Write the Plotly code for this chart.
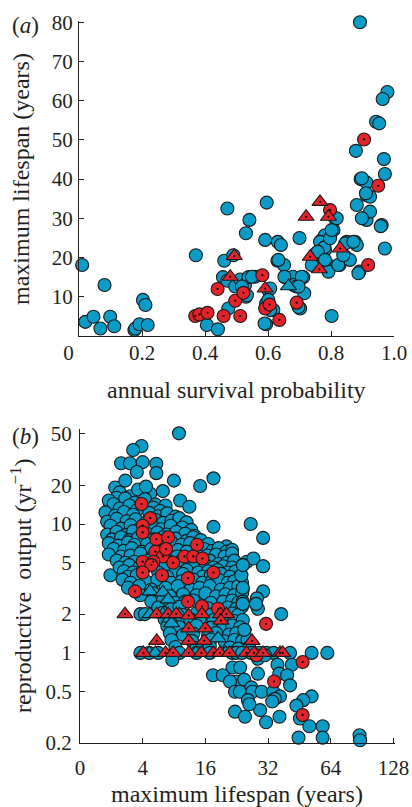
import plotly.graph_objects as go

# ---------------- Panel (a): annual survival probability vs maximum lifespan ----------------
a_blue_x = [0.01, 0.02, 0.046, 0.068, 0.081, 0.099, 0.112, 0.176, 0.179, 0.192, 0.203, 0.211, 0.218,
            0.371, 0.406, 0.441, 0.471, 0.461, 0.457, 0.471, 0.474, 0.49, 0.496, 0.512, 0.527, 0.53, 0.53,
            0.541, 0.538, 0.559, 0.591, 0.596, 0.594, 0.594, 0.601, 0.617, 0.631, 0.641, 0.63, 0.651,
            0.654, 0.679, 0.681, 0.7, 0.712, 0.715, 0.702, 0.69, 0.744, 0.753, 0.771, 0.781, 0.781,
            0.792, 0.792, 0.802, 0.808, 0.813, 0.827, 0.845, 0.85, 0.86, 0.876, 0.882, 0.89, 0.882,
            0.903, 0.913, 0.924, 0.913, 0.924, 0.961, 0.971,
            0.892, 0.979, 0.964, 0.943, 0.953, 0.879, 0.968, 0.971, 0.894, 0.913, 0.911,
            0.765, 0.779, 0.758, 0.739, 0.781, 0.823, 0.845, 0.871, 0.839, 0.887, 0.958, 0.898,
            0.898, 0.818, 0.633, 0.652, 0.707, 0.697, 0.697, 0.549, 0.517, 0.533, 0.607, 0.601,
            0.607, 0.589, 0.797, 0.802]
a_blue_y = [18.1, 3.6, 4.9, 1.9, 13.0, 4.9, 2.5, 1.5, 1.9, 3.0, 9.2, 7.9, 2.8,
            20.6, 2.8, 1.7, 32.5, 19.2, 15.0, 14.1, 7.0, 20.6, 12.6, 14.4, 13.0, 10.0, 26.2,
            29.6, 15.0, 15.1, 24.5, 34.0, 3.0, 8.3, 11.7, 6.6, 24.0, 23.2, 19.2, 18.1,
            15.0, 15.1, 13.0, 25.0, 15.0, 10.9, 7.0, 12.6, 18.1, 21.1, 24.5, 25.7, 21.9,
            18.1, 16.4, 5.1, 27.0, 30.0, 18.1, 20.2, 24.0, 19.4, 24.0, 23.2, 16.4, 33.4,
            30.0, 29.6, 31.7, 35.9, 35.5, 28.3, 22.3,
            80.0, 62.2, 60.4, 54.6, 54.2, 47.2, 45.1, 41.3, 40.0, 39.1, 36.4,
            24.0, 22.6, 21.5, 18.1, 19.4, 18.1, 23.6, 24.0, 20.6, 16.0, 28.0, 30.0,
            40.2, 30.0, 19.4, 15.1, 15.1, 12.6, 7.4, 15.1, 12.6, 10.4, 12.1, 9.2,
            6.6, 3.2, 24.9, 27.0]

a_blue_tri_x = [0.665]
a_blue_tri_y = [12.7]

a_red_x = [0.369, 0.382, 0.408, 0.44, 0.459, 0.496, 0.512, 0.522, 0.582, 0.591, 0.605, 0.636,
           0.691, 0.797, 0.918, 0.905, 0.95]
a_red_y = [5.1, 5.5, 5.9, 12.0, 5.1, 9.0, 5.1, 11.0, 15.5, 7.0, 8.0, 4.1,
           8.5, 32.1, 18.1, 50.1, 38.3]

a_red_tri_x = [0.48, 0.493, 0.591, 0.721, 0.734, 0.763, 0.765, 0.792, 0.829]
a_red_tri_y = [15.1, 20.4, 12.1, 30.4, 20.2, 17.0, 34.2, 30.4, 22.3]

a_xticks = [0, 0.2, 0.4, 0.6, 0.8, 1.0]
a_xticktext = ["0\u00a0\u00a0\u00a0\u00a0", "0.2", "0.4", "0.6", "0.8", "1.0"]
a_yticks = [10, 20, 30, 40, 50, 60, 70, 80]

# ---------------- Panel (b): maximum lifespan vs reproductive output ----------------
b_blue_L = [
    11.95, 7.9, 7.2, 6.3, 6.95, 8.0, 9.3, 9.3, 7.5, 11.3, 15.1, 17.5, 5.9, 6.6, 8.7, 10.0, 12.1, 13.4,
    5.6, 6.5, 17.5, 26.4, 30.3, 20.2, 25.3, 30.3, 27.2, 21.0, 23.4, 30.3, 28.3, 5.6, 5.8,
    6.2, 7.0, 7.6, 6.0, 8.3,
    5.5, 5.8, 6.6, 7.3, 8.2, 9.2, 10.3,
    6.2, 6.9, 7.5, 9.0, 9.7,
    5.3, 5.9, 6.5, 7.2, 8.6, 9.5, 10.5, 11.5,
    5.4, 6.0, 6.7, 7.4, 8.3, 9.2, 10.0, 11.0, 12.0, 13.0,
    5.6, 6.3, 7.0, 7.8, 8.9, 9.8, 10.9, 12.4, 13.7,
    5.4, 6.0, 6.6, 7.2, 8.4, 9.4, 10.4, 11.6, 12.8, 14.2,
    5.7, 6.3, 6.9, 7.6, 9.0, 10.0, 11.5, 13.0, 14.0, 15.2,
    5.5, 6.1, 6.8, 7.3, 8.4, 9.6, 11.0, 12.3, 13.5, 14.8, 16.5,
    5.8, 6.5, 7.1, 7.9, 8.8, 10.0, 11.8, 13.0, 15.8, 17.3, 18.5, 20.2, 21.5,
    5.5, 6.3, 7.0, 7.8, 9.0, 10.5, 11.7, 14.5, 16.4, 18.0, 19.8, 21.5,
    6.0, 6.6, 7.3, 8.5, 9.5, 10.8, 12.3, 13.5, 15.0, 16.8, 18.5, 20.3, 22.0,
    6.2, 6.9, 7.7, 9.1, 10.3, 12.0, 14.2, 16.0, 17.5, 19.5, 21.5, 24.2,
    6.5, 7.2, 8.0, 9.5, 11.5, 13.0, 14.8, 16.5, 18.3, 20.5, 22.3,
    6.8, 7.5, 10.5, 12.5, 15.5, 17.0, 19.0, 21.0, 23.8,
    6.4, 7.0, 8.3, 9.4, 11.0, 12.3, 14.0, 15.5, 17.2, 18.5, 20.5, 22.0, 24.0,
    6.8, 7.7, 8.8, 10.3, 11.8, 13.6, 15.0, 16.8, 19.0, 21.0, 23.0, 24.2,
    7.8, 9.0, 10.8, 12.5, 14.5, 16.0, 18.0, 20.0, 22.0, 24.0,
    8.8, 10.0, 11.5, 12.8, 14.0, 17.0, 19.5, 21.5, 23.0, 24.2, 28.0,
    9.5, 11.0, 12.0, 16.5, 20.5, 22.5, 24.0, 28.6,
    7.8, 8.2, 10.0, 12.5, 14.5, 17.0, 21.5, 23.0, 37.0,
    10.2, 11.8, 13.5, 15.0, 17.5, 20.0, 22.0, 24.2,
    10.5, 12.0, 14.5, 17.0, 19.5, 21.5, 23.5, 24.7,
    10.8, 12.5, 14.0, 16.5, 18.0, 20.8, 22.5, 24.5,
    11.0, 13.8, 17.0, 19.8, 22.0, 24.0, 25.5,
    11.5, 14.5, 16.8, 21.0, 23.0, 26.0,
    7.8, 8.6, 9.5, 12.0, 14.5, 16.8, 21.5, 22.5, 24.0, 26.5, 29.0, 31.5, 34.0, 40.8, 51.8, 61.6,
    11.1, 28.6, 30.9, 35.5, 41.6, 21.6, 17.4, 19.4, 23.5, 28.6, 36.2, 39.5, 22.6, 24.6, 21.0,
    26.6, 40.8, 22.2, 23.4, 26.9, 29.8, 33.9, 36.5, 51.8, 47.2, 34.5, 25.6, 43.8, 22.2, 24.8,
    29.3, 36.3, 45.5, 31.3, 33.5, 26.0, 50.5, 58.5, 44.8, 58.5, 88.0, 88.5,
    24.6, 28.0, 24.2, 24.2, 23.8, 24.2, 30.3]
b_blue_R = [
    50.5, 40.3, 37.5, 29.6, 29.6, 30.2, 29.3, 24.8, 25.3, 21.7, 19.7, 22.6, 19.2, 21.7, 17.2, 18.0, 15.2, 13.6,
    14.1, 13.6, 9.5, 10.0, 7.8, 6.7, 5.1, 4.7, 5.4, 5.3, 4.0, 3.0, 2.65, 4.0, 5.7,
    17.6, 16.4, 18.5, 16.0, 19.5,
    15.2, 14.3, 15.8, 14.6, 15.6, 14.2, 13.9,
    13.2, 13.9, 12.8, 13.4, 12.6,
    12.3, 11.6, 12.4, 11.8, 12.2, 11.5, 12.1, 11.4,
    10.4, 11.0, 10.5, 10.9, 10.3, 10.8, 10.2, 10.6, 11.1, 10.3,
    9.7, 9.2, 9.8, 9.3, 9.6, 9.1, 9.7, 9.4, 9.0,
    8.3, 8.7, 8.2, 8.8, 8.4, 8.6, 8.3, 8.7, 8.4, 8.1,
    7.6, 7.9, 7.5, 7.8, 7.6, 7.9, 7.7, 7.4, 7.9, 7.5,
    7.1, 6.8, 7.2, 6.9, 7.0, 6.8, 7.2, 6.9, 7.1, 6.8, 7.0,
    6.4, 6.2, 6.5, 6.1, 6.4, 6.2, 6.3, 6.1, 6.4, 6.2, 6.5, 6.1, 6.3,
    5.8, 5.6, 5.7, 5.9, 5.6, 5.8, 5.6, 5.9, 5.7, 5.8, 5.6, 5.9,
    5.2, 5.0, 5.1, 5.2, 4.9, 5.1, 5.2, 5.0, 5.1, 5.2, 4.9, 5.0, 5.2,
    4.6, 4.8, 4.6, 4.7, 4.8, 4.6, 4.7, 4.8, 4.6, 4.7, 4.6, 4.8,
    4.3, 4.2, 4.4, 4.2, 4.3, 4.4, 4.2, 4.3, 4.4, 4.2, 4.3,
    3.9, 4.0, 3.9, 4.1, 3.9, 4.0, 4.1, 3.9, 4.0,
    3.7, 3.5, 3.6, 3.7, 3.5, 3.6, 3.7, 3.5, 3.6, 3.7, 3.5, 3.6, 3.5,
    3.2, 3.3, 3.1, 3.2, 3.3, 3.1, 3.2, 3.3, 3.1, 3.2, 3.3, 3.1,
    2.8, 2.9, 2.75, 2.85, 2.8, 2.9, 2.75, 2.85, 2.8, 2.9,
    2.5, 2.55, 2.45, 2.5, 2.55, 2.45, 2.5, 2.55, 2.45, 2.5, 2.4,
    2.25, 2.2, 2.28, 2.22, 2.25, 2.2, 2.28, 2.2,
    2.0, 2.0, 2.05, 1.97, 2.03, 1.98, 2.02, 1.97, 2.0,
    1.82, 1.78, 1.83, 1.77, 1.8, 1.83, 1.77, 1.8,
    1.62, 1.58, 1.63, 1.57, 1.6, 1.63, 1.58, 1.5,
    1.42, 1.38, 1.41, 1.37, 1.43, 1.39, 1.42, 1.38,
    1.26, 1.24, 1.27, 1.23, 1.26, 1.24, 1.27,
    1.11, 1.09, 1.12, 1.1, 1.08, 1.11,
    1.0, 1.0, 1.0, 1.0, 1.0, 1.0, 1.0, 1.0, 1.0, 1.0, 1.0, 1.0, 1.0, 1.0, 1.0, 1.0,
    0.88, 0.9, 0.96, 0.81, 0.81, 0.77, 0.67, 0.67, 0.77, 0.69, 0.69, 0.67, 0.6, 0.62, 0.6,
    0.54, 0.56, 0.5, 0.5, 0.5, 0.5, 0.5, 0.46, 0.46, 0.43, 0.44, 0.43, 0.39, 0.35, 0.32,
    0.36, 0.32, 0.31, 0.29, 0.42, 0.40, 0.27, 0.27, 0.22, 0.22, 0.23, 0.21,
    1.51, 2.4, 2.4, 3.2, 4.0, 4.8, 4.7]

b_blue_tri_L = [8.67, 10.0, 12.0, 10.8, 18.4, 8.67, 10.0, 10.6, 11.0, 8.6, 9.2, 14.4, 20.0]
b_blue_tri_R = [2.0, 2.0, 2.0, 1.85, 1.3, 3.0, 2.95, 2.6, 1.7, 1.0, 1.0, 1.0, 1.0]

b_red_L = [7.9, 8.7, 8.0, 8.0, 9.3, 10.6, 14.6, 9.2, 10.0, 10.35, 11.2, 12.7, 14.0, 15.5, 8.0, 9.0,
           8.8, 8.0, 9.9, 13.2, 17.5, 7.35, 13.2, 15.4, 18.4, 31.3, 46.9, 34.2, 46.9, 28.2]
b_red_R = [14.3, 11.1, 9.7, 8.6, 7.6, 7.9, 6.9, 6.1, 5.6, 6.4, 5.0, 5.6, 5.6, 5.4, 5.1, 5.1,
           4.8, 4.2, 4.0, 3.8, 4.2, 3.0, 2.5, 2.3, 2.2, 1.68, 0.85, 0.6, 0.33, 0.96]

b_red_tri_L = [6.58, 9.34, 10.6, 11.6, 13.3, 15.4, 18.9, 20.2,
               19.0, 13.3, 16.0, 9.34, 13.3, 15.8, 26.8,
               8.06, 10.3, 11.2, 13.3, 15.3, 17.5, 18.8, 20.9, 25.2, 27.4, 30.3, 36.5, 37.6]
b_red_tri_R = [2.0, 2.0, 2.0, 2.0, 1.95, 2.0, 2.0, 2.0,
               1.78, 1.55, 1.55, 1.24, 1.24, 1.24, 1.24,
               1.0, 1.0, 1.0, 1.0, 1.0, 1.0, 1.0, 1.0, 1.0, 1.0, 1.0, 1.0, 1.0]

b_xticks = [4, 8, 16, 32, 64, 128]
b_xticktext = ["0", "4", "16", "32", "64", "128"]
b_yticks = [0.2, 0.5, 1, 2, 5, 10, 20, 50]
b_yticktext = ["0.2", "0.5", "1", "2", "5", "10", "20", "50"]

# ---------------- styling ----------------
W, H = 412, 807
BLUE = "#0a9cc6"
RED = "#e3232a"
EDGE = "#1a1a1a"
TXT = "#231f20"
FONT = "Liberation Serif"


def fx(p):
    return p / W


def fy(p):
    return 1 - p / H


fig = go.Figure()


def add_set(xs, ys, color, symbol, size, xa, ya, dot=False):
    fig.add_trace(go.Scatter(
        x=xs, y=ys, mode="markers", xaxis=xa, yaxis=ya, cliponaxis=False,
        marker=dict(color=color, symbol=symbol, size=size,
                    line=dict(color=EDGE, width=1.1)),
        hoverinfo="skip", showlegend=False))
    if dot:
        fig.add_trace(go.Scatter(
            x=xs, y=ys, mode="markers", xaxis=xa, yaxis=ya, cliponaxis=False,
            marker=dict(color="#000000", symbol="circle", size=2.2, line=dict(width=0)),
            hoverinfo="skip", showlegend=False))


# panel a
add_set(a_blue_x, a_blue_y, BLUE, "circle", 13, "x", "y")
add_set(a_blue_tri_x, a_blue_tri_y, BLUE, "triangle-up", 14, "x", "y")
add_set(a_red_x, a_red_y, RED, "circle", 13, "x", "y", dot=True)
add_set(a_red_tri_x, a_red_tri_y, RED, "triangle-up", 14, "x", "y", dot=True)

# panel b
add_set(b_blue_L, b_blue_R, BLUE, "circle", 13, "x2", "y2")
add_set(b_blue_tri_L, b_blue_tri_R, BLUE, "triangle-up", 14, "x2", "y2")
add_set(b_red_L, b_red_R, RED, "circle", 13, "x2", "y2", dot=True)
add_set(b_red_tri_L, b_red_tri_R, RED, "triangle-up", 14, "x2", "y2", dot=True)

axis_common = dict(showline=True, linecolor=TXT, linewidth=1.3, mirror=False,
                   showgrid=False, zeroline=False, ticks="inside", ticklen=5,
                   tickwidth=1.2, tickcolor=TXT, automargin=False,
                   tickfont=dict(family=FONT, size=21, color=TXT))

fig.update_layout(
    template="none",
    width=W, height=H, margin=dict(l=0, r=0, t=0, b=0, pad=0),
    paper_bgcolor="white", plot_bgcolor="white",
    xaxis=dict(domain=[fx(79), fx(394)], range=[0, 1.0], tickmode="array",
               tickvals=a_xticks, ticktext=a_xticktext, anchor="y",
               ticklabelstandoff=-2, **axis_common),
    yaxis=dict(domain=[fy(336), fy(21)], range=[0, 80.3], tickmode="array",
               tickvals=a_yticks, anchor="x", ticklabelstandoff=1, **axis_common),
    xaxis2=dict(domain=[fx(80), fx(395)], type="log", range=[0.60206, 2.1146],
                tickmode="array", tickvals=b_xticks, ticktext=b_xticktext,
                anchor="y2", ticklabelstandoff=6, **axis_common),
    yaxis2=dict(domain=[fy(743), fy(429)], type="log", range=[-0.69897, 1.737],
                tickmode="array", tickvals=b_yticks, ticktext=b_yticktext,
                anchor="x2", ticklabelstandoff=3, **axis_common),
)

ann_font = dict(family=FONT, size=24, color=TXT)
lab_font = dict(family=FONT, size=23, color=TXT)
fig.add_annotation(x=fx(25), y=fy(25), xref="paper", yref="paper", text="(<i>a</i>)",
                   showarrow=False, xanchor="center", yanchor="middle", font=lab_font)
fig.add_annotation(x=fx(25), y=fy(436), xref="paper", yref="paper", text="(<i>b</i>)",
                   showarrow=False, xanchor="center", yanchor="middle", font=lab_font)
fig.add_annotation(x=fx(21), y=fy(179), xref="paper", yref="paper",
                   text="maximum lifespan (years)", textangle=-90,
                   showarrow=False, xanchor="center", yanchor="middle", font=ann_font)
fig.add_annotation(x=fx(21), y=fy(586), xref="paper", yref="paper",
                   text="reproductive\u00a0\u00a0output (yr<sup>\u22121</sup>)", textangle=-90,
                   showarrow=False, xanchor="center", yanchor="middle", font=ann_font)
fig.add_annotation(x=fx(236.5), y=fy(390), xref="paper", yref="paper",
                   text="annual survival probability",
                   showarrow=False, xanchor="center", yanchor="middle", font=ann_font)
fig.add_annotation(x=fx(237), y=fy(794), xref="paper", yref="paper",
                   text="maximum lifespan (years)",
                   showarrow=False, xanchor="center", yanchor="middle", font=ann_font)

# the page's default body margin would push the 412x807 figure off the window
fig.write_html("out.html",
               config={"displayModeBar": False},
               post_script="document.body.style.margin='0px';"
                           "document.documentElement.style.overflow='hidden';")
